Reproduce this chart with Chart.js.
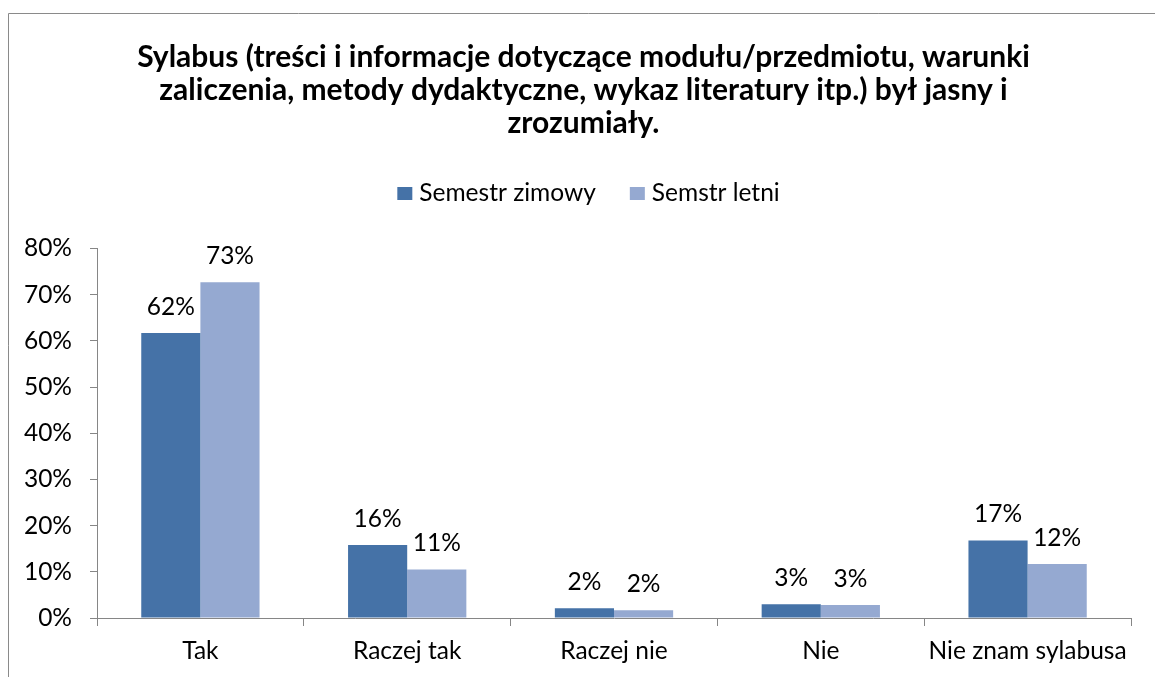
<!DOCTYPE html>
<html>
<head>
<meta charset="utf-8">
<script src="https://cdn.jsdelivr.net/npm/chart.js@4.4.0/dist/chart.umd.min.js"></script>
<style>
html,body{margin:0;padding:0;background:#fff;overflow:hidden;}
#wrap{position:absolute;left:0;top:0;width:1167px;height:677px;}
</style>
</head>
<body>
<div id="wrap"><canvas id="c"></canvas></div>
<script>
const categories = ["Tak", "Raczej tak", "Raczej nie", "Nie", "Nie znam sylabusa"];
const seriesNames = ["Semestr zimowy", "Semstr letni"];
const zimowy = [61.7, 15.8, 2.1, 3.0, 16.8];
const letni = [72.7, 10.5, 1.7, 2.8, 11.7];
const seriesColors = ["#4572A7", "#95A9D1"];
const titleLines = [
  "Sylabus (treści i informacje dotyczące modułu/przedmiotu, warunki",
  "zaliczenia, metody dydaktyczne, wykaz literatury itp.) był jasny i",
  "zrozumiały."
];
const yTicksMax = 80;
const yStep = 10;

const FONT = "Lato, 'Open Sans', sans-serif";
const FS = 24.5;
const AXIS = "#868686";

const borderPlugin = {
  id: 'outerBorder',
  beforeDraw(chart) {
    const ctx = chart.ctx;
    ctx.save();
    ctx.fillStyle = '#fff';
    ctx.fillRect(0, 0, chart.width, chart.height);
    ctx.strokeStyle = '#8a8a8a';
    ctx.lineWidth = 1;
    ctx.beginPath();
    ctx.moveTo(8.5, chart.height + 5);
    ctx.lineTo(8.5, 13.5);
    ctx.lineTo(chart.width + 5, 13.5);
    ctx.stroke();
    ctx.restore();
  }
};

// legend drawn inside a top layout box (below the title), plus a right spacer box
const layoutPlugin = {
  id: 'customBoxes',
  beforeInit(chart) {
    const legendBox = {
      position: 'top',
      weight: 500,
      fullSize: true,
      options: {},
      top: 0, left: 0, right: 0, bottom: 0, width: 0, height: 0,
      isHorizontal() { return true; },
      update(maxWidth) { this.width = maxWidth; this.height = 100; },
      draw() {
        const ctx = chart.ctx;
        const ds = chart.data.datasets;
        ctx.save();
        ctx.font = FS + "px " + FONT;
        const boxW = 15, boxH = 13, gap = 7, itemGap = 34;
        const widths = ds.map(d => boxW + gap + ctx.measureText(d.label).width);
        const total = widths.reduce((a, b) => a + b, 0) + itemGap * (ds.length - 1);
        let x = (this.left + this.right) / 2 + 5 - total / 2;
        const cy = this.top + 45;
        ctx.textBaseline = "middle";
        ctx.textAlign = "left";
        ds.forEach((d, i) => {
          ctx.fillStyle = d.backgroundColor;
          ctx.fillRect(x, cy - boxH / 2, boxW, boxH);
          ctx.fillStyle = "#000";
          ctx.fillText(d.label, x + boxW + gap, cy);
          x += widths[i] + itemGap;
        });
        ctx.restore();
      }
    };
    const rightBox = {
      position: 'right',
      weight: 0,
      fullSize: false,
      options: {},
      top: 0, left: 0, right: 0, bottom: 0, width: 0, height: 0,
      isHorizontal() { return false; },
      update(maxWidth, maxHeight) { this.width = 36; this.height = maxHeight; },
      draw() {}
    };
    Chart.layouts.addBox(chart, legendBox);
    Chart.layouts.addBox(chart, rightBox);
  }
};

const labelPlugin = {
  id: 'valueLabels',
  afterDatasetsDraw(chart) {
    const ctx = chart.ctx;
    ctx.save();
    ctx.font = FS + "px " + FONT;
    ctx.fillStyle = "#000";
    ctx.textAlign = "center";
    ctx.textBaseline = "middle";
    chart.data.datasets.forEach((ds, i) => {
      const meta = chart.getDatasetMeta(i);
      meta.data.forEach((bar, j) => {
        ctx.fillText(Math.round(ds.data[j]) + "%", bar.x, bar.y - 26);
      });
    });
    ctx.restore();
  }
};

new Chart(document.getElementById('c'), {
  type: 'bar',
  data: {
    labels: categories,
    datasets: [
      { label: seriesNames[0], data: zimowy, backgroundColor: seriesColors[0], borderWidth: 0 },
      { label: seriesNames[1], data: letni, backgroundColor: seriesColors[1], borderWidth: 0 }
    ]
  },
  options: {
    responsive: true,
    maintainAspectRatio: false,
    animation: false,
    layout: { padding: 0 },
    datasets: { bar: { categoryPercentage: 0.572, barPercentage: 1.0 } },
    plugins: {
      title: {
        display: true,
        text: titleLines,
        color: "#000",
        font: { family: FONT, size: 30, weight: 'bold', lineHeight: 1.1 },
        padding: { top: 40.5, bottom: 9 }
      },
      legend: { display: false },
      tooltip: { enabled: false }
    },
    scales: {
      x: {
        border: { display: true, color: AXIS, width: 1 },
        grid: { display: true, drawOnChartArea: false, drawTicks: true, tickLength: 8, offset: true, color: AXIS },
        ticks: { color: "#000", font: { family: FONT, size: FS }, padding: 10, maxRotation: 0 },
        afterFit(scale) { scale.height = 59; }
      },
      y: {
        min: 0,
        max: yTicksMax,
        border: { display: true, color: AXIS, width: 1 },
        grid: { display: true, drawOnChartArea: false, drawTicks: true, tickLength: 7, color: AXIS },
        ticks: {
          stepSize: yStep,
          color: "#000",
          font: { family: FONT, size: FS },
          padding: 18,
          callback: v => v + "%"
        },
        afterFit(scale) { scale.width = 97; }
      }
    }
  },
  plugins: [borderPlugin, layoutPlugin, labelPlugin]
});
</script>
</body>
</html>
